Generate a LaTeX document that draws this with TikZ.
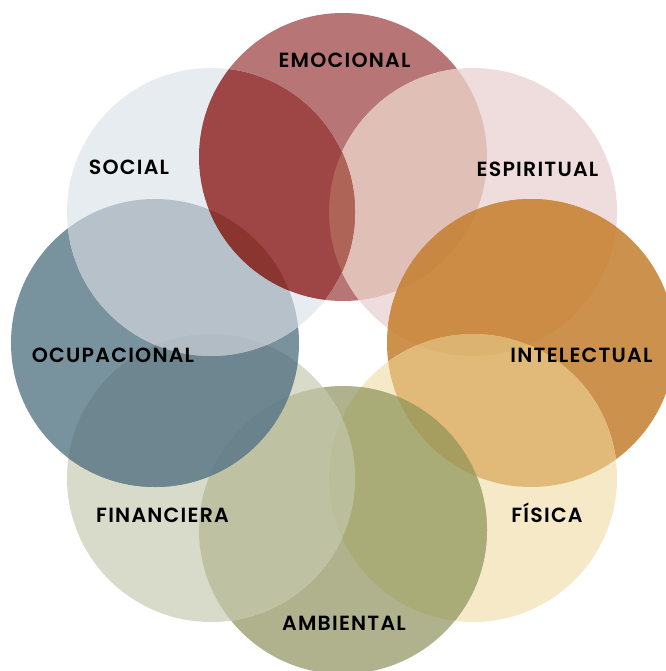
\documentclass[tikz,border=0pt]{standalone}
\usepackage{fontspec}
\newfontfamily\labfont{Poppins SemiBold}[LetterSpace=6]
\begin{document}
\begin{tikzpicture}[x=1pt,y=-1pt,
  lab/.style={font=\labfont\fontsize{20.5}{22}\selectfont, text=black, inner sep=0pt, anchor=base},
  rr/.style={radius=144pt}]
\useasboundingbox (0,0) rectangle (665,671);
% centres
\coordinate (c0) at (343,157);
\coordinate (c1) at (473,212);
\coordinate (c2) at (531,343);
\coordinate (c3) at (473,478);
\coordinate (c4) at (343,530);
\coordinate (c5) at (211,478);
\coordinate (c6) at (155,343);
\coordinate (c7) at (211,212);
% single colours
\definecolor{s0}{RGB}{183,117,117}
\definecolor{s1}{RGB}{239,221,221}
\definecolor{s2}{RGB}{205,145,78}
\definecolor{s3}{RGB}{245,233,200}
\definecolor{s4}{RGB}{176,178,142}
\definecolor{s5}{RGB}{216,218,202}
\definecolor{s6}{RGB}{120,146,158}
\definecolor{s7}{RGB}{230,236,239}
% pair colours (i with i+1)
\definecolor{p0}{RGB}{224,192,182}
\definecolor{p1}{RGB}{204,140,70}
\definecolor{p2}{RGB}{225,185,120}
\definecolor{p3}{RGB}{170,172,120}
\definecolor{p4}{RGB}{190,194,162}
\definecolor{p5}{RGB}{110,134,143}
\definecolor{p6}{RGB}{183,193,201}
\definecolor{p7}{RGB}{158,69,70}
% triple colours (i-1, i, i+1)
\definecolor{t0}{RGB}{175,100,88}
\definecolor{t1}{RGB}{200,135,66}
\definecolor{t2}{RGB}{221,179,114}
\definecolor{t3}{RGB}{165,158,95}
\definecolor{t4}{RGB}{187,190,155}
\definecolor{t5}{RGB}{105,130,139}
\definecolor{t6}{RGB}{178,188,196}
\definecolor{t7}{RGB}{138,53,47}
% singles
\foreach \i in {0,...,7} { \fill[s\i] (c\i) circle[rr]; }
% pairs
\foreach \i [evaluate=\i as \j using {int(mod(\i+1,8))}] in {0,...,7} {
  \begin{scope}
    \clip (c\i) circle[rr];
    \fill[p\i] (c\j) circle[rr];
  \end{scope}
}
% triples
\foreach \i [evaluate=\i as \a using {int(mod(\i+7,8))}, evaluate=\i as \b using {int(mod(\i+1,8))}] in {0,...,7} {
  \begin{scope}
    \clip (c\a) circle[rr];
    \clip (c\i) circle[rr];
    \fill[t\i] (c\b) circle[rr];
  \end{scope}
}
% labels
\node[lab] (l0) at (344.5,68) {EMOCIONAL};
\node[lab] (l1) at (537.5,176) {ESPIRITUAL};
\node[lab] (l2) at (581.5,362) {INTELECTUAL};
\node[lab] (l3) at (547,522) {FÍSICA};
\node[lab] (l4) at (344,630) {AMBIENTAL};
\node[lab] (l5) at (162.5,522) {FINANCIERA};
\node[lab] (l6) at (113,362) {OCUPACIONAL};
\node[lab] (l7) at (129,175) {SOCIAL};
\end{tikzpicture}
\end{document}
